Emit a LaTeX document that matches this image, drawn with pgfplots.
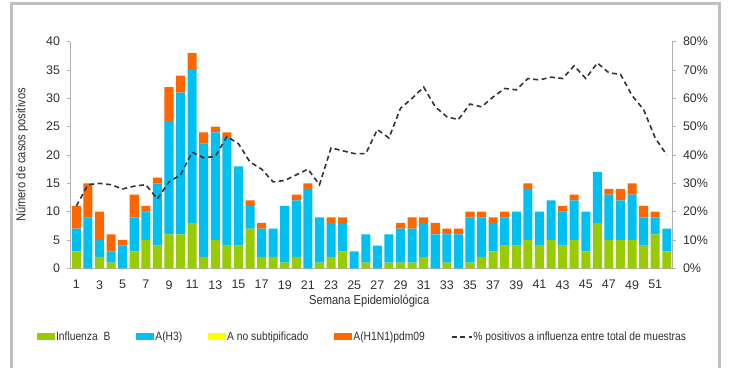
\documentclass[border=0pt]{standalone}
\usepackage{fontspec}
\setmainfont{Liberation Sans}
\newfontfamily\narrowfont[FakeStretch=0.86]{Liberation Sans}
\usepackage{pgfplots}
\usepackage{pgfplotstable}
\pgfplotsset{compat=1.18}
\definecolor{cB}{HTML}{99CC00}
\definecolor{cH3}{HTML}{00C0F2}
\definecolor{cNS}{HTML}{FFFF00}
\definecolor{cH1}{HTML}{FF6600}
\definecolor{axgray}{HTML}{B0B0B0}
\definecolor{txt}{HTML}{303030}
\pgfplotstableread{
w B H3 NS H1 P
1 3 4 0 4 22
2 0 9 0 6 29.5
3 2 3 0 5 30
4 1 2 0 3 29.5
5 0 4 0 1 28
6 3 6 0 4 29
7 5 5 0 1 29.5
8 4 11 0 1 24.5
9 6 20 0 6 30.5
10 6 25 0 3 33
11 8 27 0 3 41
12 2 20 0 2 39
13 5 19 0 1 39.5
14 4 19 0 1 46.5
15 4 14 0 0 44
16 7 4 0 1 37.5
17 2 5 0 1 35
18 2 5 0 0 30.5
19 1 10 0 0 31
20 2 10 0 1 33
21 0 14 0 1 35
22 1 8 0 0 29.5
23 2 6 0 1 42.5
24 3 5 0 1 41.5
25 0 3 0 0 40.5
26 1 5 0 0 40.5
27 0 4 0 0 49
28 1 5 0 0 46
29 1 6 0 1 56.5
30 1 6 0 2 60
31 2 6 0 1 64
32 0 6 0 2 57
33 1 5 0 1 53.5
34 0 6 0 1 52.5
35 1 8 0 1 58
36 2 7 0 1 57
37 3 5 0 1 60.5
38 4 5 0 1 63.5
39 4 6 0 0 63
40 5 9 0 1 67
41 4 6 0 0 66.5
42 5 7 0 0 67.5
43 4 6 0 1 67
44 5 7 0 1 71.5
45 3 7 0 0 67
46 8 9 0 0 72.5
47 5 8 0 1 69
48 5 7 0 2 68.5
49 5 8 0 2 61
50 4 5 0 2 56
51 6 3 0 1 46
52 3 4 0 0 40
}\datatable
\pgfplotsset{
  common/.style={
    at={(70bp,98.7bp)}, anchor=south west, scale only axis,
    width=602bp, height=226.6bp,
    xmin=0.45, xmax=52.45,
    /pgf/number format/assume math mode=true,
    tick label style={font=\fontsize{12.5}{14}\selectfont, text=txt},
    axis line style={axgray, line width=0.8bp},
    tick style={axgray, line width=0.8bp},
    tick align=outside, major tick length=3.5bp,
  },
  barleg/.style={legend image code/.code={\fill[##1] (0bp,-3.5bp) rectangle (18bp,3.5bp);}},
  lineleg/.style={legend image code/.code={\draw[##1] (0bp,0bp) -- (20bp,0bp);}},
}
\begin{document}
\begin{tikzpicture}[x=1bp,y=1bp]
\useasboundingbox (0,0) rectangle (736,367);
\fill[white] (0,0) rectangle (736,367);
\draw[line width=3bp, color=black!25] (11,-10) -- (11,363) -- (719,363) -- (719,-10);
\begin{axis}[common,
  ymin=0, ymax=40,
  ybar stacked, bar width=0.78,
  axis x line*=bottom, axis y line*=left,
  ytick={0,5,...,40},
  xtick={1,3,...,51},
  xtick style={draw=none},
  xticklabel style={yshift=-5bp},
  yticklabel style={xshift=-3bp},
  extra x ticks={0.5,1.5,...,52.5},
  extra x tick labels={},
  extra x tick style={tick style={axgray, line width=0.8bp}, major tick length=3.5bp},
  xlabel={Semana Epidemiológica},
  xlabel style={at={(axis description cs:0.497,-0.145)}, anchor=center, font=\fontsize{13}{15}\narrowfont, text=txt},
  ylabel={Número de casos positivos},
  ylabel style={at={(axis description cs:-0.064,0.5)}, anchor=south, font=\fontsize{13}{15}\narrowfont, text=txt},
]
\addplot[fill=cB, draw=none] table[x=w, y=B] {\datatable};
\addplot[fill=cH3, draw=none] table[x=w, y=H3] {\datatable};
\addplot[fill=cNS, draw=none] table[x=w, y=NS] {\datatable};
\addplot[fill=cH1, draw=none] table[x=w, y=H1] {\datatable};
\end{axis}
\begin{axis}[common,
  ymin=0, ymax=80,
  axis x line=none, axis y line*=right,
  ytick={0,10,...,80},
  yticklabel={\pgfmathprintnumber{\tick}\%},
  yticklabel style={xshift=4bp},
  legend columns=5,
  legend style={at={(axis description cs:-0.055,-0.303)}, anchor=west, draw=none, fill=none,
    inner sep=0pt, font=\fontsize{12}{14}\narrowfont, text=txt,
    nodes={inner sep=1bp},
    /tikz/every even column/.append style={column sep=25bp}},
]
\addlegendimage{fill=cB, draw=none, barleg}
\addlegendentry{Influenza\ \ B}
\addlegendimage{fill=cH3, draw=none, barleg}
\addlegendentry{A(H3)}
\addlegendimage{fill=cNS, draw=none, barleg}
\addlegendentry{A no subtipificado}
\addlegendimage{fill=cH1, draw=none, barleg}
\addlegendentry{A(H1N1)pdm09}
\addplot[color=black!80, line width=1.6bp, dash pattern=on 5bp off 3.5bp, lineleg]
  table[x=w, y=P] {\datatable};
\addlegendentry{\% positivos a influenza entre total de muestras}
\end{axis}
\end{tikzpicture}
\end{document}
